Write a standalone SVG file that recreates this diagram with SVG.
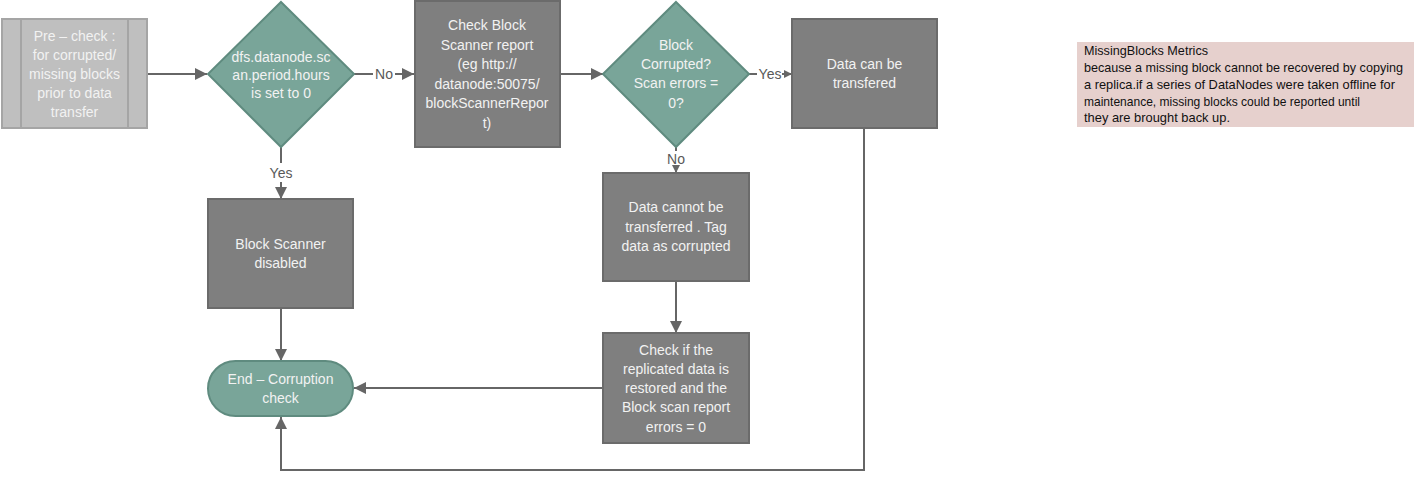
<svg xmlns="http://www.w3.org/2000/svg" width="1417" height="496" viewBox="0 0 1417 496">
<style>
.t{font-family:"Liberation Sans",Arial,sans-serif;font-size:14px;fill:#f2f2f2;text-anchor:middle}
.lbl{font-family:"Liberation Sans",Arial,sans-serif;font-size:14px;fill:#595959;text-anchor:middle}
.box{fill:#7f7f7f;stroke:#6b6b6b;stroke-width:2}
.dia{fill:#79a599;stroke:#5f8b7f;stroke-width:2}
.con{fill:none;stroke:#666666;stroke-width:2}
.note{font-family:"Liberation Sans",Arial,sans-serif;font-size:13px;fill:#111111}
</style>
<defs>
<marker id="ah" viewBox="0 0 10 10" refX="10" refY="5" markerWidth="6.5" markerHeight="6" orient="auto" markerUnits="strokeWidth">
<path d="M0,0 L10,5 L0,10 z" fill="#666666"/>
</marker>
<marker id="ahs" viewBox="0 0 10 10" refX="10" refY="5" markerWidth="4" markerHeight="4" orient="auto" markerUnits="strokeWidth">
<path d="M0,0 L10,5 L0,10 z" fill="#666666"/>
</marker>
</defs>
<rect width="1417" height="496" fill="#ffffff"/>

<g id="connectors">
<line class="con" x1="147" y1="74" x2="207" y2="74" marker-end="url(#ah)"/>
<line class="con" x1="354" y1="74" x2="373" y2="74"/>
<line class="con" x1="395" y1="74" x2="414" y2="74" marker-end="url(#ah)"/>
<line class="con" x1="281" y1="147" x2="281" y2="163"/>
<line class="con" x1="281" y1="182" x2="281" y2="199" marker-end="url(#ah)"/>
<line class="con" x1="560" y1="74" x2="603" y2="74" marker-end="url(#ah)"/>
<line class="con" x1="749" y1="74" x2="757" y2="74"/>
<line class="con" x1="782" y1="74" x2="792" y2="74" marker-end="url(#ahs)"/>
<line class="con" x1="676" y1="147" x2="676" y2="151"/>
<line class="con" x1="676" y1="167" x2="676" y2="173" marker-end="url(#ahs)"/>
<line class="con" x1="281" y1="308" x2="281" y2="361" marker-end="url(#ah)"/>
<line class="con" x1="676" y1="281" x2="676" y2="333" marker-end="url(#ah)"/>
<line class="con" x1="603" y1="388" x2="354" y2="388" marker-end="url(#ah)"/>
<polyline class="con" points="864,128 864,470 281,470 281,417" marker-end="url(#ah)"/>
<text class="lbl" x="384" y="79">No</text>
<text class="lbl" x="281" y="178">Yes</text>
<text class="lbl" x="770" y="79">Yes</text>
<text class="lbl" x="676" y="164">No</text>
</g>

<g id="precheck">
<rect x="2" y="19" width="145" height="109" fill="#bfbfbf" stroke="#a5a5a5" stroke-width="2"/>
<line x1="21" y1="19" x2="21" y2="128" stroke="#a5a5a5" stroke-width="2"/>
<line x1="128" y1="19" x2="128" y2="128" stroke="#a5a5a5" stroke-width="2"/>
<text class="t" x="74.5" y="41">Pre – check :</text>
<text class="t" x="74.5" y="60">for corrupted/</text>
<text class="t" x="74.5" y="79">missing blocks</text>
<text class="t" x="74.5" y="98">prior to data</text>
<text class="t" x="74.5" y="117">transfer</text>
</g>

<g id="decision1">
<polygon class="dia" points="281,2 354,74 281,147 208,74"/>
<text class="t" x="281" y="62">dfs.datanode.sc</text>
<text class="t" x="281" y="80">an.period.hours</text>
<text class="t" x="281" y="98">is set to 0</text>
</g>

<g id="checkreport">
<rect class="box" x="415" y="1" width="145" height="146"/>
<text class="t" x="487" y="30">Check Block</text>
<text class="t" x="487" y="49.5">Scanner report</text>
<text class="t" x="487" y="69">(eg http://</text>
<text class="t" x="487" y="88.5">datanode:50075/</text>
<text class="t" x="487" y="108">blockScannerRepor</text>
<text class="t" x="487" y="127.5">t)</text>
</g>

<g id="decision2">
<polygon class="dia" points="676,2 749,74 676,147 603,74"/>
<text class="t" x="676" y="50">Block</text>
<text class="t" x="676" y="69">Corrupted?</text>
<text class="t" x="676" y="88">Scan errors =</text>
<text class="t" x="676" y="108">0?</text>
</g>

<g id="cantransfer">
<rect class="box" x="792" y="19" width="145" height="109"/>
<text class="t" x="864.5" y="69">Data can be</text>
<text class="t" x="864.5" y="88">transfered</text>
</g>

<g id="scannerdisabled">
<rect class="box" x="208" y="199" width="145" height="109"/>
<text class="t" x="280.5" y="249">Block Scanner</text>
<text class="t" x="280.5" y="268">disabled</text>
</g>

<g id="cannottransfer">
<rect class="box" x="603" y="173" width="146" height="108"/>
<text class="t" x="676" y="212">Data cannot be</text>
<text class="t" x="676" y="232">transferred . Tag</text>
<text class="t" x="676" y="251">data as corrupted</text>
</g>

<g id="checkrestored">
<rect class="box" x="603" y="333" width="146" height="110"/>
<text class="t" x="676" y="355">Check if the</text>
<text class="t" x="676" y="374">replicated data is</text>
<text class="t" x="676" y="393">restored and the</text>
<text class="t" x="676" y="412">Block scan report</text>
<text class="t" x="676" y="432">errors = 0</text>
</g>

<g id="end">
<rect x="208" y="361" width="145" height="55" rx="27.5" ry="27.5" fill="#79a599" stroke="#5f8b7f" stroke-width="2"/>
<text class="t" x="280.5" y="384">End – Corruption</text>
<text class="t" x="280.5" y="403">check</text>
</g>

<g id="note">
<rect x="1077" y="42" width="337" height="85" fill="#e6d0cd"/>
<text class="note" x="1084" y="55" textLength="124" lengthAdjust="spacingAndGlyphs">MissingBlocks Metrics</text>
<text class="note" x="1084" y="72" textLength="319" lengthAdjust="spacingAndGlyphs">because a missing block cannot be recovered by copying</text>
<text class="note" x="1084" y="89" textLength="311" lengthAdjust="spacingAndGlyphs">a replica.if a series of DataNodes were taken offline for</text>
<text class="note" x="1084" y="106" textLength="276" lengthAdjust="spacingAndGlyphs">maintenance, missing blocks could be reported until</text>
<text class="note" x="1084" y="122" textLength="146" lengthAdjust="spacingAndGlyphs">they are brought back up.</text>
</g>
</svg>
